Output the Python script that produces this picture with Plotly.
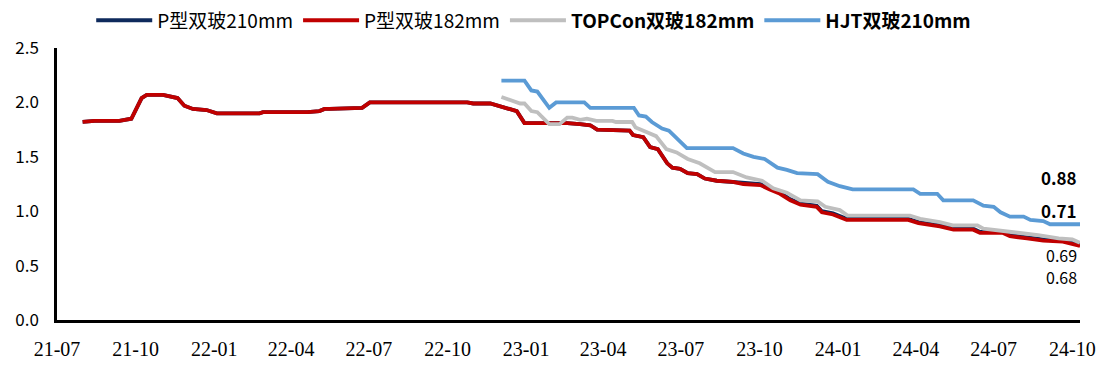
import plotly.graph_objects as go

# ---- data ----
p_dates = ["2021-07-31", "2021-08-14", "2021-09-12", "2021-09-26", "2021-10-08", "2021-10-14",
           "2021-11-02", "2021-11-19", "2021-11-27", "2021-12-07", "2021-12-23", "2022-01-04",
           "2022-02-23", "2022-02-27", "2022-04-20", "2022-05-04", "2022-05-10", "2022-05-16",
           "2022-06-23", "2022-07-02", "2022-10-24", "2022-10-31", "2022-11-20", "2022-12-05",
           "2022-12-21", "2022-12-30", "2023-02-01", "2023-02-18", "2023-03-05", "2023-03-17",
           "2023-03-25", "2023-05-02", "2023-05-06", "2023-05-18", "2023-05-26", "2023-06-04",
           "2023-06-15", "2023-06-21", "2023-06-30", "2023-07-09", "2023-07-20", "2023-07-29",
           "2023-08-12", "2023-08-31", "2023-09-12", "2023-10-02", "2023-10-13", "2023-10-25",
           "2023-11-06", "2023-11-18", "2023-12-07", "2023-12-13", "2023-12-26", "2024-01-11",
           "2024-03-23", "2024-04-04", "2024-04-29", "2024-05-15", "2024-06-07", "2024-06-15",
           "2024-07-12", "2024-07-20", "2024-08-09", "2024-08-28", "2024-09-20", "2024-10-10"]
p182 = [1.82, 1.83, 1.83, 1.85, 2.04, 2.07,
        2.07, 2.04, 1.97, 1.94, 1.93, 1.90,
        1.90, 1.91, 1.91, 1.92, 1.94, 1.94,
        1.95, 2.00, 2.00, 1.99, 1.99, 1.96,
        1.92, 1.81, 1.81, 1.81, 1.80, 1.79,
        1.75, 1.74, 1.70, 1.68, 1.59, 1.57,
        1.44, 1.40, 1.39, 1.35, 1.34, 1.30,
        1.28, 1.27, 1.25, 1.24, 1.20, 1.16,
        1.10, 1.06, 1.04, 0.99, 0.97, 0.92,
        0.92, 0.89, 0.86, 0.83, 0.83, 0.80,
        0.80, 0.77, 0.75, 0.73, 0.72, 0.68]
p210 = [1.82, 1.83, 1.83, 1.85, 2.04, 2.07,
        2.07, 2.04, 1.97, 1.94, 1.93, 1.90,
        1.90, 1.91, 1.91, 1.92, 1.94, 1.94,
        1.95, 2.00, 2.00, 1.99, 1.99, 1.96,
        1.92, 1.81, 1.81, 1.81, 1.80, 1.79,
        1.75, 1.74, 1.70, 1.68, 1.59, 1.57,
        1.44, 1.40, 1.39, 1.35, 1.34, 1.30,
        1.28, 1.27, 1.26, 1.25, 1.21, 1.17,
        1.11, 1.07, 1.05, 1.00, 0.98, 0.93,
        0.93, 0.90, 0.87, 0.84, 0.84, 0.81,
        0.81, 0.78, 0.76, 0.74, 0.73, 0.69]

t_dates = ["2022-12-03", "2022-12-13", "2022-12-25", "2022-12-30", "2023-01-07", "2023-01-14",
           "2023-01-28", "2023-02-09", "2023-02-18", "2023-02-24", "2023-03-05", "2023-03-13",
           "2023-03-24", "2023-04-12", "2023-04-16", "2023-05-05", "2023-05-09", "2023-05-21",
           "2023-06-02", "2023-06-14", "2023-06-26", "2023-07-09", "2023-07-23", "2023-08-10",
           "2023-08-31", "2023-09-16", "2023-10-04", "2023-10-17", "2023-11-02", "2023-11-18",
           "2023-12-08", "2023-12-17", "2024-01-03", "2024-01-12", "2024-03-25", "2024-04-06",
           "2024-04-29", "2024-05-14", "2024-06-12", "2024-06-19", "2024-07-12", "2024-07-29",
           "2024-08-22", "2024-09-15", "2024-10-01", "2024-10-10"]
topcon182 = [2.05, 2.02, 1.99, 1.99, 1.92, 1.91,
             1.80, 1.80, 1.86, 1.86, 1.84, 1.85,
             1.83, 1.83, 1.82, 1.82, 1.77, 1.73,
             1.69, 1.57, 1.54, 1.48, 1.44, 1.36,
             1.36, 1.31, 1.28, 1.21, 1.17, 1.10,
             1.09, 1.04, 1.01, 0.96, 0.96, 0.93,
             0.90, 0.87, 0.87, 0.84, 0.82, 0.80,
             0.78, 0.75, 0.74, 0.71]

h_dates = ["2022-12-03", "2022-12-30", "2023-01-07", "2023-01-14", "2023-01-28", "2023-02-05",
           "2023-03-10", "2023-03-17", "2023-05-07", "2023-05-13", "2023-05-21", "2023-05-28",
           "2023-06-09", "2023-06-17", "2023-07-08", "2023-08-31", "2023-09-12", "2023-09-24",
           "2023-10-07", "2023-10-22", "2023-11-02", "2023-11-14", "2023-12-08", "2023-12-20",
           "2024-01-03", "2024-01-18", "2024-03-29", "2024-04-06", "2024-04-26", "2024-05-03",
           "2024-06-07", "2024-06-19", "2024-07-01", "2024-07-09", "2024-07-20", "2024-08-05",
           "2024-08-13", "2024-08-28", "2024-09-05", "2024-10-10"]
hjt210 = [2.20, 2.20, 2.11, 2.10, 1.95, 2.00,
          2.00, 1.95, 1.95, 1.88, 1.87, 1.82,
          1.76, 1.74, 1.58, 1.58, 1.53, 1.50,
          1.48, 1.40, 1.38, 1.35, 1.34, 1.27,
          1.23, 1.20, 1.20, 1.16, 1.16, 1.10,
          1.10, 1.05, 1.04, 0.99, 0.95, 0.95,
          0.92, 0.91, 0.88, 0.88]

y_ticks = [0.0, 0.5, 1.0, 1.5, 2.0, 2.5]

FONT = "Noto Sans CJK SC"

fig = go.Figure()
fig.add_trace(go.Scatter(x=p_dates, y=p210, mode="lines", name="P型双玻210mm",
                         line=dict(color="#0E2A5C", width=3.8)))
fig.add_trace(go.Scatter(x=p_dates, y=p182, mode="lines", name="P型双玻182mm",
                         line=dict(color="#C00000", width=3.8)))
fig.add_trace(go.Scatter(x=t_dates, y=topcon182, mode="lines", name="<b>TOPCon双玻182mm</b>",
                         line=dict(color="#BFBFBF", width=3.8)))
fig.add_trace(go.Scatter(x=h_dates, y=hjt210, mode="lines", name="<b>HJT双玻210mm</b>",
                         line=dict(color="#5B9BD5", width=3.8)))

# end-value labels
labels = [(f"<b>{hjt210[-1]:.2f}</b>", 1.31, 17), (f"<b>{topcon182[-1]:.2f}</b>", 1.005, 17),
          (f"{p210[-1]:.2f}", 0.60, 16), (f"{p182[-1]:.2f}", 0.398, 16)]
for txt, yy, fs in labels:
    fig.add_annotation(x=0.9985, xref="paper", y=yy, yref="y", text=txt, showarrow=False,
                       xanchor="right", yanchor="middle", borderpad=0,
                       font=dict(family=FONT, size=fs, color="#000000"))

fig.update_layout(
    width=1117, height=371,
    margin=dict(l=57, r=37, t=48, b=51, autoexpand=False),
    paper_bgcolor="white", plot_bgcolor="white",
    font=dict(family=FONT, color="#000000", size=17),
    showlegend=True,
    legend=dict(orientation="h", x=0.466, xanchor="center", xref="paper",
                y=0.945, yanchor="middle", yref="container",
                font=dict(family=FONT, size=19, color="#000000"),
                itemwidth=56, tracegroupgap=0, bgcolor="rgba(0,0,0,0)"),
    xaxis=dict(type="date", range=["2021-07-01", "2024-10-10"], automargin=False,
               tick0="2021-07-01", dtick="M3", tickformat="%y-%m",
               showgrid=False, zeroline=False, showline=True, linecolor="#000000", linewidth=3,
               ticks="", ticklabelstandoff=9,
               tickfont=dict(family="Liberation Sans Narrow", size=20, color="#000000")),
    yaxis=dict(range=[0, 2.5], tickvals=y_ticks, tickformat=".1f", automargin=False,
               showgrid=False, zeroline=False, showline=True, linecolor="#000000", linewidth=2.5,
               ticks="", ticklabelstandoff=12,
               tickfont=dict(family=FONT, size=17, color="#000000")),
)

fig.write_html("out.html", config={"displayModeBar": False},
               post_script="document.body.style.margin='0';")
